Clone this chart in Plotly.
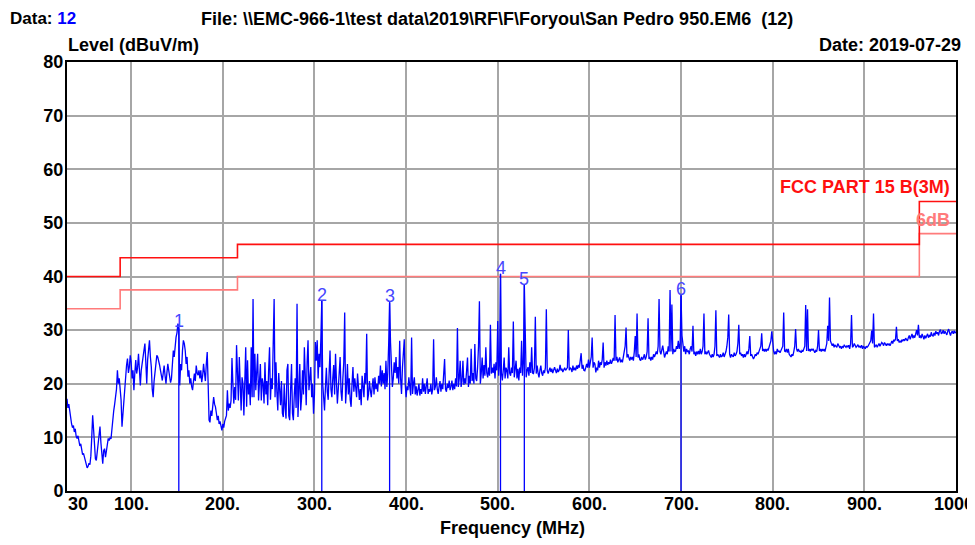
import plotly.graph_objects as go

# ---------------- data ----------------
sweep_start_mhz = 30  # 1 MHz sweep step, one level per MHz from 30 to 1000
level_dbuv = [
    17.2, 15.5, 16.2, 14.8, 14.3, 12.5, 11.8, 12.2, 11.0, 11.6,
    10.2, 9.8, 10.3, 9.0, 8.4, 8.8, 7.5, 6.8, 7.0, 6.2,
    5.5, 5.0, 4.3, 4.6, 5.2, 4.9, 6.5, 10.0, 14.1, 11.5,
    7.6, 6.0, 5.7, 7.2, 8.5, 9.8, 12.0, 9.0, 6.6, 5.1,
    7.5, 7.9, 6.3, 7.4, 8.2, 9.8, 9.4, 10.0, 9.7, 12.0,
    14.1, 15.0, 16.2, 17.5, 19.0, 22.5, 20.0, 21.0, 19.5, 17.0,
    12.0, 14.5, 16.0, 20.5, 21.0, 23.5, 24.7, 22.0, 23.1, 25.3,
    24.0, 21.0, 22.5, 18.8, 22.0, 24.4, 21.9, 23.0, 25.6, 22.0,
    19.7, 22.5, 23.7, 25.5, 26.5, 27.5, 24.0, 20.0, 24.5, 27.0,
    28.1, 25.0, 23.1, 19.0, 17.5, 20.5, 22.5, 24.0, 25.3, 25.0,
    24.4, 23.5, 22.5, 21.5, 20.6, 22.0, 23.4, 21.5, 20.0, 22.0,
    23.7, 22.5, 21.0, 20.2, 21.0, 23.0, 26.2, 25.0, 27.5, 28.7,
    29.5, 31.2, 30.5, 19.7, 23.7, 22.5, 26.2, 28.1, 27.5, 26.2,
    23.7, 25.0, 21.3, 22.5, 20.0, 21.0, 19.5, 18.8, 20.5, 21.9,
    20.5, 23.4, 22.0, 21.6, 22.5, 21.0, 22.5, 20.3, 21.5, 23.7,
    22.0, 20.5, 23.7, 25.9, 20.0, 13.2, 12.8, 15.0, 14.0, 16.5,
    17.5, 16.2, 15.7, 14.5, 13.2, 14.0, 12.5, 13.0, 12.0, 11.3,
    12.5, 11.8, 13.0, 13.8, 14.1, 18.8, 15.0, 16.3, 15.5, 16.9,
    24.8, 20.0, 16.3, 19.4, 17.0, 27.2, 23.0, 16.9, 25.0, 18.0,
    15.0, 21.2, 20.0, 14.1, 22.5, 26.8, 15.7, 24.4, 18.0, 20.0,
    16.0, 26.8, 17.5, 35.8, 17.5, 25.6, 18.8, 22.0, 25.6, 16.9,
    20.5, 23.7, 16.9, 21.0, 20.0, 16.3, 24.0, 18.0, 20.5, 16.0,
    22.5, 26.8, 17.0, 21.0, 19.0, 26.0, 35.8, 17.5, 24.0, 18.5,
    15.0, 22.0, 18.1, 16.0, 20.5, 14.5, 13.8, 20.0, 15.5, 13.5,
    22.5, 23.7, 14.0, 13.2, 19.0, 23.7, 14.5, 13.2, 18.0, 21.0,
    15.5, 34.9, 13.8, 19.0, 23.7, 15.0, 17.5, 22.5, 18.0, 26.8,
    20.5, 16.0, 24.0, 28.1, 18.8, 21.0, 23.1, 17.5, 20.0, 14.4,
    18.0, 27.8, 24.3, 28.1, 21.0, 25.6, 23.1, 28.5, 35.5, 20.0,
    17.0, 15.0, 19.5, 23.0, 18.5, 17.0, 22.0, 26.2, 19.0, 17.5,
    21.0, 23.5, 18.0, 25.6, 20.5, 16.3, 19.0, 22.0, 25.0, 18.5,
    16.8, 21.0, 24.0, 33.3, 16.3, 19.5, 23.7, 18.0, 21.0, 17.0,
    15.7, 20.0, 23.1, 18.5, 21.0, 19.4, 17.5, 21.9, 20.0, 17.0,
    19.0, 16.0, 21.5, 19.0, 17.5, 22.0, 20.0, 29.3, 16.9, 18.0,
    20.5, 18.8, 17.5, 19.5, 21.0, 18.0, 21.2, 19.0, 20.0, 18.5,
    21.5, 20.0, 23.4, 19.5, 22.5, 20.0, 22.0, 19.0, 24.3, 19.4,
    22.0, 27.5, 35.2, 27.7, 22.0, 19.4, 21.0, 24.0, 22.0, 25.0,
    21.0, 23.1, 20.0, 28.0, 21.0, 18.1, 23.0, 26.0, 28.3, 20.0,
    17.5, 19.5, 18.8, 21.2, 19.0, 17.8, 28.6, 18.1, 20.0, 21.2,
    18.0, 19.5, 17.8, 19.0, 20.0, 17.8, 19.0, 18.1, 21.0, 18.5,
    20.0, 18.1, 19.5, 21.0, 18.1, 19.0, 18.5, 20.0, 18.0, 19.0,
    28.3, 18.8, 19.5, 21.2, 19.0, 18.1, 19.5, 20.5, 18.5, 20.0,
    19.0, 21.0, 24.6, 19.0, 18.5, 20.0, 19.2, 20.6, 18.8, 19.5,
    20.6, 18.8, 20.0, 19.0, 21.0, 19.5, 30.4, 19.4, 21.0, 24.3,
    19.4, 20.5, 24.3, 19.8, 21.0, 20.0, 22.5, 24.9, 19.4, 21.5,
    20.0, 26.5, 20.5, 22.0, 20.0, 27.4, 21.0, 20.5, 23.0, 27.0,
    35.4, 20.0, 22.0, 24.9, 21.0, 23.5, 21.5, 26.8, 22.0, 21.2,
    23.0, 21.5, 31.0, 21.9, 23.0, 22.0, 23.7, 21.0, 24.0, 22.5,
    31.7, 21.5, 24.0, 40.5, 22.0, 20.6, 22.5, 24.9, 21.0, 23.0,
    22.5, 21.0, 26.8, 22.0, 21.5, 23.0, 22.0, 31.6, 21.2, 22.5,
    24.3, 21.0, 22.8, 20.6, 23.0, 22.0, 28.0, 21.5, 24.0, 38.5,
    30.4, 21.2, 22.5, 23.1, 21.5, 24.0, 22.0, 26.8, 22.0, 21.9,
    23.0, 32.5, 21.9, 23.4, 22.0, 21.2, 22.5, 23.4, 22.0, 21.5,
    22.5, 22.0, 23.0, 33.9, 22.5, 21.9, 22.5, 23.0, 22.2, 22.8,
    22.0, 22.5, 23.1, 22.5, 22.0, 22.8, 22.2, 22.5, 23.5, 22.5,
    22.8, 22.2, 22.5, 23.0, 22.5, 22.8, 23.0, 30.0, 22.5, 23.0,
    22.8, 22.2, 23.4, 22.5, 23.0, 22.5, 23.4, 22.8, 23.5, 23.0,
    24.0, 25.7, 22.8, 23.5, 22.5, 22.4, 23.0, 23.7, 23.0, 24.5,
    23.0, 24.0, 25.0, 28.6, 23.0, 24.0, 23.7, 22.1, 23.0, 22.5,
    24.3, 23.0, 24.0, 23.5, 24.5, 27.7, 23.0, 24.0, 23.4, 24.3,
    23.5, 24.0, 23.7, 24.5, 23.7, 24.2, 24.8, 24.3, 32.8, 24.3,
    25.0, 24.0, 24.5, 24.9, 24.0, 24.5, 24.0, 25.0, 26.0, 27.0,
    30.5, 24.9, 25.5, 24.5, 24.3, 25.0, 24.5, 25.0, 24.3, 26.0,
    28.9, 25.0, 33.1, 24.9, 25.5, 24.5, 24.3, 25.0, 24.5, 24.9,
    25.5, 24.5, 25.0, 26.0, 32.2, 24.6, 25.0, 24.3, 25.0, 24.5,
    25.5, 25.0, 25.5, 26.0, 25.5, 27.0, 35.8, 26.1, 25.5, 26.5,
    27.1, 26.0, 24.9, 25.5, 26.0, 25.5, 27.0, 26.0, 37.5, 26.0,
    34.8, 25.5, 26.5, 26.0, 26.1, 27.0, 26.5, 28.0, 26.5, 27.5,
    36.5, 29.0, 26.8, 26.0, 27.0, 25.5, 26.5, 26.0, 26.1, 25.5,
    26.5, 27.0, 26.0, 30.8, 25.5, 26.0, 25.2, 26.0, 25.5, 26.1,
    25.5, 26.5, 25.5, 26.0, 27.0, 33.1, 25.5, 26.0, 25.5, 25.8,
    26.2, 25.5, 25.0, 24.9, 25.5, 25.0, 25.5, 27.0, 33.7, 25.2,
    25.5, 25.0, 24.9, 25.5, 25.0, 25.2, 25.8, 25.0, 25.5, 26.0,
    27.0, 28.6, 32.9, 25.5, 24.9, 25.5, 25.2, 25.0, 25.8, 25.2,
    25.5, 26.0, 27.5, 31.0, 25.5, 25.8, 25.2, 25.5, 24.9, 25.5,
    25.0, 25.5, 26.0, 25.5, 26.5, 28.9, 25.2, 25.5, 24.8, 24.6,
    25.0, 25.5, 25.2, 25.8, 25.5, 26.2, 26.5, 27.0, 29.4, 26.1,
    26.5, 26.0, 26.5, 26.0, 26.5, 26.2, 26.8, 27.5, 28.0, 29.8,
    26.8, 26.1, 25.5, 26.0, 25.5, 26.5, 26.0, 26.1, 25.8, 26.2,
    26.5, 27.0, 33.3, 26.1, 26.0, 26.5, 25.8, 26.5, 25.5, 25.2,
    25.0, 25.5, 25.2, 26.0, 27.0, 30.2, 26.5, 26.0, 26.5, 26.0,
    26.1, 25.8, 26.2, 26.0, 26.5, 27.0, 34.7, 26.1, 33.9, 26.1,
    26.5, 26.0, 26.5, 26.2, 26.5, 26.0, 25.8, 26.2, 26.0, 27.0,
    30.0, 26.1, 26.5, 26.0, 26.5, 26.1, 26.5, 26.0, 26.8, 27.5,
    30.8, 28.0, 36.1, 28.0, 27.5, 27.1, 27.5, 26.8, 27.2, 27.0,
    26.8, 27.5, 27.1, 26.8, 27.0, 26.5, 27.0, 26.8, 27.2, 27.0,
    26.8, 27.1, 26.8, 27.2, 26.5, 27.5, 32.8, 26.8, 27.0, 27.5,
    27.1, 26.8, 27.0, 27.3, 26.8, 27.0, 26.8, 27.2, 26.5, 27.0,
    26.8, 26.5, 27.0, 26.8, 27.0, 27.3, 27.5, 28.0, 29.9, 27.5,
    33.1, 26.8, 27.0, 27.3, 26.8, 27.1, 27.5, 27.0, 27.3, 27.7,
    27.5, 27.1, 27.7, 27.3, 27.1, 27.5, 27.2, 27.5, 27.1, 27.5,
    28.0, 27.5, 28.2, 28.0, 28.3, 30.6, 28.0, 28.3, 27.7, 28.0,
    27.7, 28.2, 28.0, 28.3, 28.0, 28.5, 28.3, 28.0, 28.6, 29.0,
    28.3, 28.8, 29.3, 28.5, 29.0, 28.6, 29.5, 30.0, 29.0, 31.0,
    28.6, 29.0, 28.5, 29.3, 28.8, 28.3, 29.0, 28.5, 28.9, 29.3,
    28.6, 29.0, 28.8, 29.6, 29.0, 28.9, 29.5, 29.0, 29.8, 29.3,
    29.6, 29.0, 29.8, 30.1, 29.3, 29.5, 30.0, 29.3, 29.8, 29.5,
    29.1, 29.8, 30.2, 29.5, 29.0, 29.6, 29.8, 29.3, 29.9, 29.5,
    29.7,
]
freq_mhz = list(range(sweep_start_mhz, sweep_start_mhz + len(level_dbuv)))

# FCC Part 15 B (3 m) limit and 6 dB margin line (step edges)
limit_freq = [30, 88, 216, 960, 1000]
limit_fcc = [40, 43.5, 46, 54, 54]
limit_6db = [34, 37.5, 40, 48, 48]

# marker peaks
marker_labels = ["1", "2", "3", "4", "5", "6"]
marker_freq = [152, 308, 382, 503, 529, 700]
marker_level = [30.5, 35.5, 35.2, 40.5, 38.5, 36.5]

xtick_vals = [30, 100, 200, 300, 400, 500, 600, 700, 800, 900, 1000]
xtick_text = ["30", "100.", "200.", "300.", "400.", "500.", "600.", "700.", "800.", "900.", "1000"]

# ---------------- figure ----------------
FONT = "Liberation Sans, Arial, sans-serif"
FS = 18
OFF = 8                     # page body margin of the html output
W, H = 975 - OFF, 545 - OFF
ML, MR, MT, MB = 67 - OFF, 975 - 956, 62 - OFF, 545 - 491
PW, PH = W - ML - MR, H - MT - MB


def px(x):  # page pixel -> paper fraction
    return (x - OFF - ML) / PW


def py(y):
    return (H - MB - (y - OFF)) / PH


fig = go.Figure()

fig.add_trace(go.Scatter(x=limit_freq, y=limit_6db, mode="lines", line_shape="hv",
                         line=dict(color="#ff7b7b", width=1.6), hoverinfo="skip"))
fig.add_trace(go.Scatter(x=limit_freq, y=limit_fcc, mode="lines", line_shape="hv",
                         line=dict(color="#ff1010", width=1.6), hoverinfo="skip"))

fig.add_trace(go.Scatter(x=freq_mhz, y=level_dbuv, mode="lines",
                         line=dict(color="#0000ff", width=1.3)))

mx, my = [], []
for f, l in zip(marker_freq, marker_level):
    mx += [f, f, None]
    my += [0, l, None]
fig.add_trace(go.Scatter(x=mx, y=my, mode="lines", line=dict(color="#0000ff", width=1.3)))

annotations = []
for lab, f, l in zip(marker_labels, marker_freq, marker_level):
    annotations.append(dict(x=f, y=l, xref="x", yref="y", text=lab, showarrow=False,
                            xanchor="center", yanchor="middle", yshift=6,
                            font=dict(family=FONT, size=FS, color="#4646ff")))

bold = dict(family=FONT, size=FS, color="black", weight="bold")
for v, t in zip(xtick_vals, xtick_text):
    if v == 30:
        anchor, shift = "left", 0
    elif v == 1000:
        anchor, shift = "right", 19
    else:
        anchor, shift = "center", 0
    annotations.append(dict(x=v, y=0, xref="x", yref="paper", text=t, showarrow=False,
                            xanchor=anchor, xshift=shift, yanchor="top", yshift=-2,
                            borderpad=0, font=bold))

hdr = dict(family=FONT, size=17, color="black", weight="bold")
annotations += [
    dict(x=px(9), y=py(OFF), xref="paper", yref="paper", xanchor="left", yanchor="top",
         borderpad=0, text="Data: <span style='color:#0000ff'>12</span>", showarrow=False,
         font=hdr),
    dict(x=px(200), y=py(OFF), xref="paper", yref="paper", xanchor="left", yanchor="top",
         borderpad=0,
         text="File: \\\\EMC-966-1\\test data\\2019\\RF\\F\\Foryou\\San Pedro 950.EM6 \u00a0(12)",
         showarrow=False, font=dict(hdr, size=18)),
    dict(x=px(66), y=py(45), xref="paper", yref="paper", xanchor="left", yanchor="middle",
         text="Level (dBuV/m)", showarrow=False, font=bold),
    dict(x=px(963), y=py(45), xref="paper", yref="paper", xanchor="right", yanchor="middle",
         text="Date: 2019-07-29", showarrow=False, font=bold),
    dict(x=px(513), y=py(528), xref="paper", yref="paper", xanchor="center", yanchor="middle",
         text="Frequency (MHz)", showarrow=False, font=bold),
    dict(x=px(952), y=py(187), xref="paper", yref="paper", xanchor="right", yanchor="middle",
         text="FCC PART 15 B(3M)", showarrow=False,
         font=dict(family=FONT, size=FS, color="#ff1010", weight="bold")),
    dict(x=px(952), y=py(220), xref="paper", yref="paper", xanchor="right", yanchor="middle",
         text="6dB", showarrow=False,
         font=dict(family=FONT, size=FS, color="#ff7b7b", weight="bold")),
]

fig.update_layout(
    width=W, height=H,
    margin=dict(l=ML, r=MR, t=MT, b=MB, pad=0),
    paper_bgcolor="white", plot_bgcolor="white",
    showlegend=False,
    annotations=annotations,
    xaxis=dict(range=[30, 1000], tickvals=[100, 200, 300, 400, 500, 600, 700, 800, 900],
               showticklabels=False, ticks="", showgrid=True, gridcolor="#a6a6a6", gridwidth=1.5,
               zeroline=False, showline=True, linecolor="black", linewidth=2, mirror=True),
    yaxis=dict(range=[0, 80], dtick=10, tick0=0, ticks="", showgrid=True, gridcolor="#a6a6a6",
               gridwidth=1.5, zeroline=False, showline=True, linecolor="black", linewidth=2,
               mirror=True, ticklabelstandoff=-2, tickfont=bold),
)

fig.write_html("out.html")
